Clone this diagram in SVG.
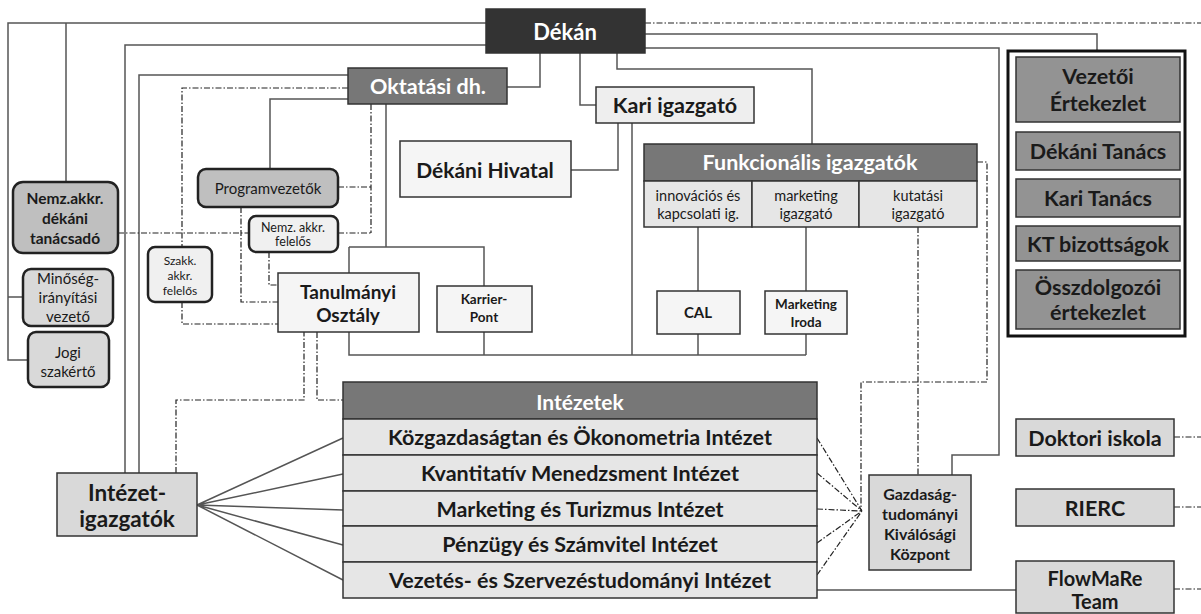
<svg xmlns="http://www.w3.org/2000/svg" width="1201" height="614" viewBox="0 0 1201 614">
<style>
.ln{fill:none;stroke:#555;stroke-width:1.5}
.dd{fill:none;stroke:#222;stroke-width:1.2;stroke-dasharray:6 2 1.5 2}
.bx{stroke:#333;stroke-width:1.5}
.rb{stroke:#222;stroke-width:2.5}
.t{font-family:Lato,"Liberation Sans",sans-serif;fill:#1a1a1a;text-anchor:middle;dominant-baseline:central}
.b{font-weight:bold}
.w{fill:#fff}
.row{font-size:21.5px}
.cn{font-size:21.5px}
</style>
<rect width="1201" height="614" fill="#fff"/>
<g id="connectors">
<path class="ln" d="M486,23 H8 V360 H28 M8,297 H23 M66,23 V182"/>
<path class="ln" d="M486,45 H125 V473 M348,75 H139 V473"/>
<path class="ln" d="M540,53 V87 H507 M580,53 V105 H596 M617,53 V69 H812 V144"/>
<path class="ln" d="M645,34 H1097 V51 M645,48 H999 V455 H952 V475"/>
<path class="ln" d="M571,170 H618 V123 M632,123 V355"/>
<path class="ln" d="M386,104 V247 M349,247 H484 V286 M349,247 V355 H806 M484,332 V355"/>
<path class="ln" d="M698,227 V291 M698,334 V355 M806,227 V291 M806,334 V355"/>
<path class="ln" d="M270,169 V99 H348"/>
<path class="ln" d="M197,505 L343,438 M197,505 L343,474 M197,505 L343,510 M197,505 L343,545 M197,505 L343,580"/>
<path class="ln" d="M817,590 H1016"/>
<path class="dd" d="M645,23 H1201"/>
<path class="dd" d="M348,88 H182 V247 M182,302 V324 H278 M241,207 V302 H278 M269,252 V285 H278"/>
<path class="dd" d="M118,233 H249 M338,233 H371 M371,104 V233 M338,187 H371"/>
<path class="dd" d="M176,473 V400 H304 V332 M317,332 V400 H343"/>
<path class="dd" d="M977,162 H987 V382 H861 V511 M918,227 V475"/>
<path class="dd" d="M817,438 L862,511 M817,473 L862,511 M817,509 L862,511 M817,543 L862,511 M817,575 L862,511"/>
<path class="dd" d="M1174,437 H1201 M1174,507 H1201 M1174,589 H1201"/>
</g>
<g id="dekan"><rect class="bx" x="486" y="9" width="159" height="44" fill="#333"/><text class="t b w" x="565" y="31" font-size="22">Dékán</text></g>
<g id="oktatasi"><rect class="bx" x="348" y="68" width="159" height="36" fill="#777"/><text class="t b w" x="428" y="86" font-size="21.5">Oktatási dh.</text></g>
<g id="kari-igazgato"><rect class="bx" x="596" y="87" width="158" height="36" fill="#eee"/><text class="t b" x="675" y="105" font-size="21.5">Kari igazgató</text></g>
<g id="dekani-hivatal"><rect class="bx" x="400" y="141" width="171" height="56" fill="#f5f5f5"/><text class="t b" x="485" y="169" font-size="21">Dékáni Hivatal</text></g>
<g id="funkcionalis">
<rect class="bx" x="644" y="144" width="333" height="37" fill="#777"/><text class="t b w" x="810" y="162" font-size="21.5">Funkcionális igazgatók</text>
<rect class="bx" x="644" y="181" width="108" height="46" fill="#e6e6e6"/>
<rect class="bx" x="752" y="181" width="107" height="46" fill="#e6e6e6"/>
<rect class="bx" x="859" y="181" width="118" height="46" fill="#e6e6e6"/>
<text class="t" x="698" y="204" font-size="14.5"><tspan x="698" dy="-9">innovációs és</tspan><tspan x="698" dy="18">kapcsolati ig.</tspan></text>
<text class="t" x="806" y="204" font-size="14.5"><tspan x="806" dy="-9">marketing</tspan><tspan x="806" dy="18">igazgató</tspan></text>
<text class="t" x="918" y="204" font-size="14.5"><tspan x="918" dy="-9">kutatási</tspan><tspan x="918" dy="18">igazgató</tspan></text>
</g>
<g id="cal"><rect class="bx" x="657" y="291" width="83" height="43" fill="#f5f5f5"/><text class="t b" x="698" y="312" font-size="15">CAL</text></g>
<g id="marketing-iroda"><rect class="bx" x="765" y="291" width="82" height="43" fill="#f5f5f5"/><text class="t b" x="806" y="313" font-size="13.5"><tspan x="806" dy="-9">Marketing</tspan><tspan x="806" dy="18">Iroda</tspan></text></g>
<g id="tanulmanyi"><rect class="bx" x="278" y="273" width="141" height="59" fill="#f5f5f5"/><text class="t b" x="348" y="302" font-size="19"><tspan x="348" dy="-11.5">Tanulmányi</tspan><tspan x="348" dy="23">Osztály</tspan></text></g>
<g id="karrier"><rect class="bx" x="437" y="286" width="95" height="46" fill="#f5f5f5"/><text class="t b" x="484" y="308" font-size="13.5"><tspan x="484" dy="-9">Karrier-</tspan><tspan x="484" dy="18">Pont</tspan></text></g>
<g id="programvezetok"><rect class="rb" x="198" y="169" width="140" height="38" rx="8" fill="#bfbfbf"/><text class="t" x="268" y="188" font-size="15">Programvezetők</text></g>
<g id="nemz-felelos"><rect class="rb" x="249" y="216" width="89" height="36" rx="7" fill="#f0f0f0"/><text class="t" x="293" y="234" font-size="12.5"><tspan x="293" dy="-7">Nemz. akkr.</tspan><tspan x="293" dy="14">felelős</tspan></text></g>
<g id="szakk-felelos"><rect class="rb" x="148" y="247" width="64" height="55" rx="7" fill="#f0f0f0"/><text class="t" x="180" y="275" font-size="12"><tspan x="180" dy="-15">Szakk.</tspan><tspan x="180" dy="15">akkr.</tspan><tspan x="180" dy="15">felelős</tspan></text></g>
<g id="nemz-tanacsado"><rect class="rb" x="13" y="182" width="105" height="71" rx="10" fill="#bfbfbf"/><text class="t b" x="65" y="218" font-size="15.5"><tspan x="65" dy="-20">Nemz.akkr.</tspan><tspan x="65" dy="20">dékáni</tspan><tspan x="65" dy="20">tanácsadó</tspan></text></g>
<g id="minoseg"><rect class="rb" x="23" y="269" width="90" height="57" rx="8" fill="#d9d9d9"/><text class="t" x="68" y="297" font-size="15"><tspan x="68" dy="-19">Minőség-</tspan><tspan x="68" dy="19">irányítási</tspan><tspan x="68" dy="19">vezető</tspan></text></g>
<g id="jogi"><rect class="rb" x="28" y="332" width="81" height="55" rx="8" fill="#d9d9d9"/><text class="t" x="68" y="361" font-size="15"><tspan x="68" dy="-9.5">Jogi</tspan><tspan x="68" dy="19">szakértő</tspan></text></g>
<g id="intezet-igazgatok"><rect class="bx" x="57" y="473" width="140" height="63" fill="#d9d9d9"/><text class="t b" x="127" y="505" font-size="22.5"><tspan x="127" dy="-13">Intézet-</tspan><tspan x="127" dy="26">igazgatók</tspan></text></g>
<g id="intezetek">
<rect class="bx" x="343" y="382" width="474" height="37" fill="#777"/><text class="t b w" x="580" y="401" font-size="21">Intézetek</text>
<rect class="bx" x="343" y="419" width="474" height="36" fill="#e6e6e6"/><text class="t b row" x="580" y="437">Közgazdaságtan és Ökonometria Intézet</text>
<rect class="bx" x="343" y="455" width="474" height="36" fill="#e6e6e6"/><text class="t b row" x="580" y="473">Kvantitatív Menedzsment Intézet</text>
<rect class="bx" x="343" y="491" width="474" height="35" fill="#e6e6e6"/><text class="t b row" x="580" y="509">Marketing és Turizmus Intézet</text>
<rect class="bx" x="343" y="526" width="474" height="36" fill="#e6e6e6"/><text class="t b row" x="580" y="544">Pénzügy és Számvitel Intézet</text>
<rect class="bx" x="343" y="562" width="474" height="36" fill="#e6e6e6"/><text class="t b row" x="580" y="580">Vezetés- és Szervezéstudományi Intézet</text>
</g>
<g id="gtk"><rect class="bx" x="869" y="475" width="102" height="95" fill="#d9d9d9"/><text class="t b" x="920" y="523" font-size="16"><tspan x="920" dy="-30">Gazdaság-</tspan><tspan x="920" dy="20">tudományi</tspan><tspan x="920" dy="20">Kiválósági</tspan><tspan x="920" dy="20">Központ</tspan></text></g>
<g id="testuletek">
<rect x="1008" y="51" width="177" height="285" fill="#fff" stroke="#111" stroke-width="3"/>
<rect class="bx" x="1016" y="57" width="164" height="65" fill="#939393"/><text class="t b cn" x="1098" y="89"><tspan x="1098" dy="-13">Vezetői</tspan><tspan x="1098" dy="27">Értekezlet</tspan></text>
<rect class="bx" x="1016" y="132" width="164" height="38" fill="#939393"/><text class="t b cn" x="1098" y="151">Dékáni Tanács</text>
<rect class="bx" x="1016" y="179" width="164" height="38" fill="#939393"/><text class="t b cn" x="1098" y="198">Kari Tanács</text>
<rect class="bx" x="1016" y="226" width="164" height="35" fill="#939393"/><text class="t b cn" x="1098" y="244">KT bizottságok</text>
<rect class="bx" x="1016" y="270" width="164" height="59" fill="#939393"/><text class="t b cn" x="1098" y="299"><tspan x="1098" dy="-12.5">Összdolgozói</tspan><tspan x="1098" dy="25">értekezlet</tspan></text>
</g>
<g id="doktori"><rect class="bx" x="1016" y="419" width="158" height="37" fill="#d9d9d9"/><text class="t b" x="1095" y="438" font-size="21.5">Doktori iskola</text></g>
<g id="rierc"><rect class="bx" x="1016" y="489" width="158" height="37" fill="#d9d9d9"/><text class="t b" x="1095" y="508" font-size="21.5">RIERC</text></g>
<g id="flowmare"><rect class="bx" x="1016" y="561" width="158" height="52" fill="#d9d9d9"/><text class="t b" x="1095" y="589" font-size="20"><tspan x="1095" dy="-11.5">FlowMaRe</tspan><tspan x="1095" dy="23">Team</tspan></text></g>
</svg>
